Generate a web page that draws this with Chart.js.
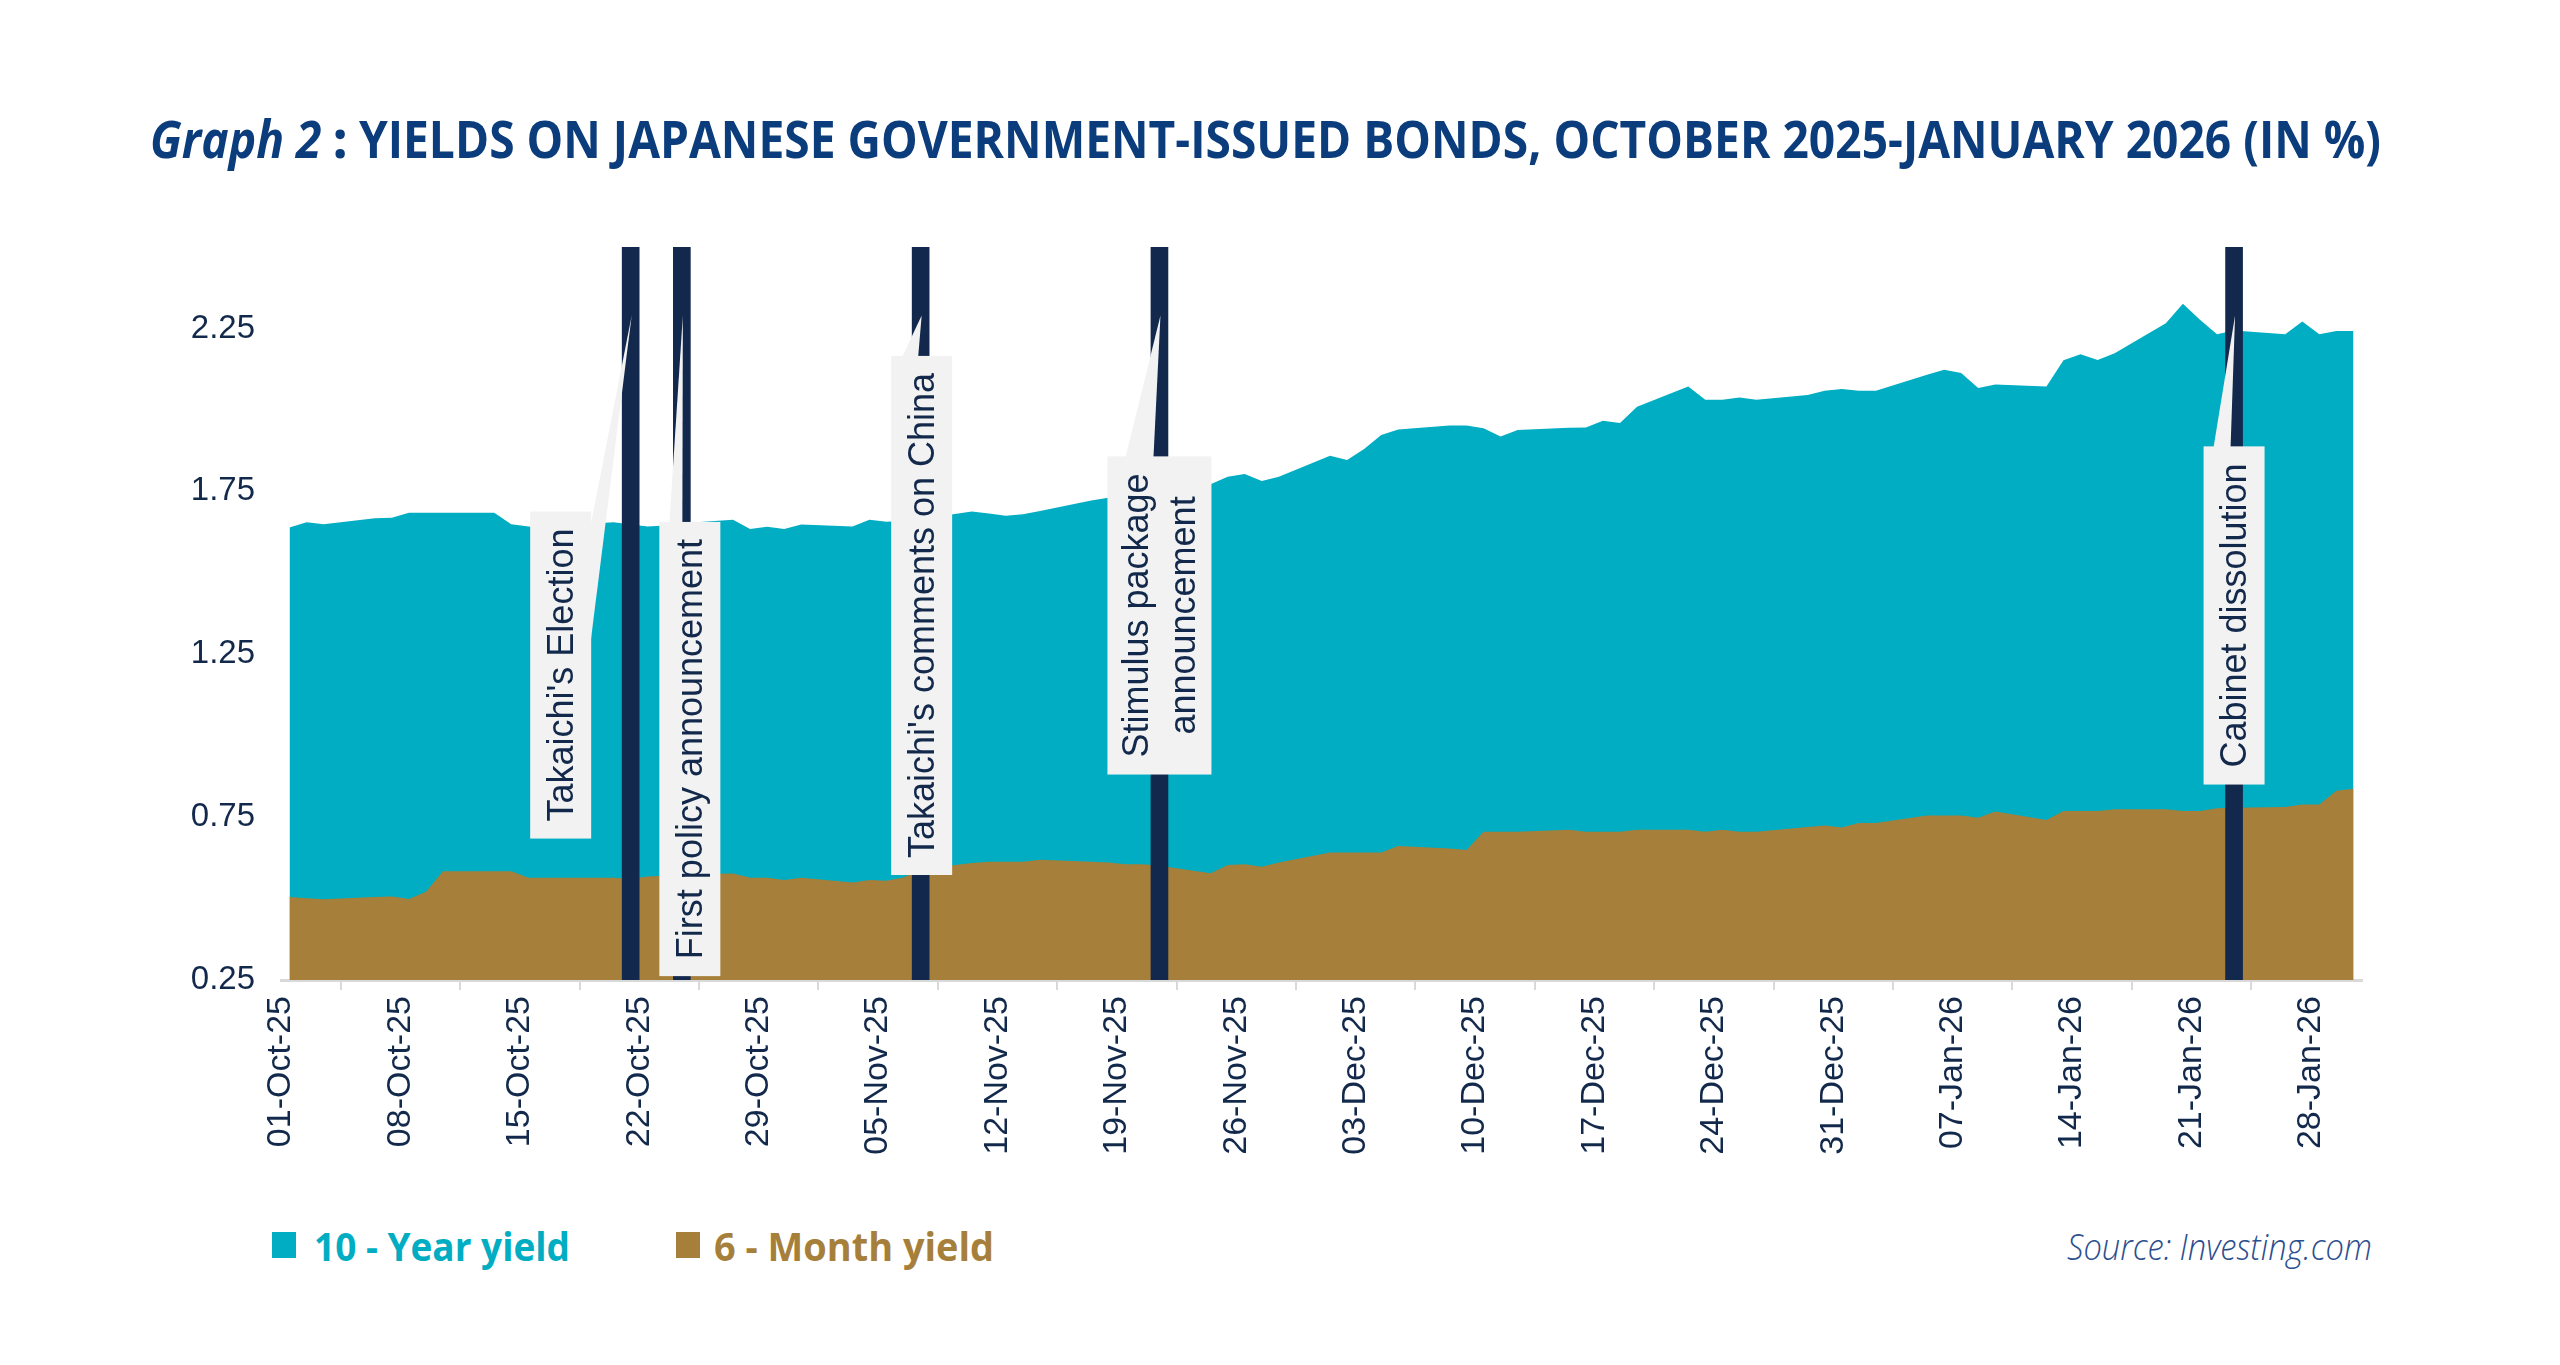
<!DOCTYPE html>
<html>
<head>
<meta charset="utf-8">
<script src="https://cdn.jsdelivr.net/npm/chart.js@4.4.1/dist/chart.umd.min.js"></script>
<style>
  html, body { margin: 0; padding: 0; background: #fff; }
  #page { position: relative; width: 2560px; height: 1365px; overflow: hidden; background: #fff; }
  .fit { position: absolute; white-space: nowrap; transform-origin: 0 0; line-height: 1; font-family: "Open Sans", sans-serif; }
  #title { left: 150px; top: 112px; font-size: 52px; font-weight: 700; color: #0B3C7C; }
  #title i { font-weight: 700; }
  #chartBox { position: absolute; left: 0; top: 200px; width: 2560px; height: 1000px; }
  .key { position: absolute; top: 1232px; width: 24px; height: 26px; }
  .legend { top: 1226px; font-size: 39px; font-weight: 700; }
  #source { left: 2067px; top: 1229px; font-size: 36px; font-style: italic; font-weight: 300; color: #2B4F8E; }
</style>
</head>
<body>
<div id="page">
  <div id="title" class="fit" data-w="2231"><i>Graph 2</i> <b>:</b> YIELDS ON JAPANESE GOVERNMENT-ISSUED BONDS, OCTOBER 2025-JANUARY 2026 (IN %)</div>
  <div id="chartBox"><canvas id="chart" width="2560" height="1000"></canvas></div>
  <div class="key" style="left:272px; background:#00ADC2"></div>
  <div class="fit legend" data-w="256" style="left:314px; color:#00ADC2">10 - Year yield</div>
  <div class="key" style="left:676px; background:#A67F3A"></div>
  <div class="fit legend" data-w="280" style="left:714px; color:#A67F3A">6 - Month yield</div>
  <div id="source" class="fit" data-w="305">Source: Investing.com</div>
</div>
<script>
// trading days
const startDate = '2025-10-01';
const dates = [
  '2025-10-01','2025-10-02','2025-10-03','2025-10-06','2025-10-07','2025-10-08','2025-10-09','2025-10-10',
  '2025-10-13','2025-10-14','2025-10-15','2025-10-16','2025-10-17','2025-10-20','2025-10-21','2025-10-22',
  '2025-10-23','2025-10-24','2025-10-27','2025-10-28','2025-10-29','2025-10-30','2025-10-31','2025-11-03',
  '2025-11-04','2025-11-05','2025-11-06','2025-11-07','2025-11-10','2025-11-11','2025-11-12','2025-11-13',
  '2025-11-14','2025-11-17','2025-11-18','2025-11-19','2025-11-20','2025-11-21','2025-11-24','2025-11-25',
  '2025-11-26','2025-11-27','2025-11-28','2025-12-01','2025-12-02','2025-12-03','2025-12-04','2025-12-05',
  '2025-12-08','2025-12-09','2025-12-10','2025-12-11','2025-12-12','2025-12-15','2025-12-16','2025-12-17',
  '2025-12-18','2025-12-19','2025-12-22','2025-12-23','2025-12-24','2025-12-25','2025-12-26','2025-12-29',
  '2025-12-30','2025-12-31','2026-01-01','2026-01-02','2026-01-05','2026-01-06','2026-01-07','2026-01-08',
  '2026-01-09','2026-01-12','2026-01-13','2026-01-14','2026-01-15','2026-01-16','2026-01-19','2026-01-20',
  '2026-01-21','2026-01-22','2026-01-23','2026-01-26','2026-01-27','2026-01-28','2026-01-29','2026-01-30'
];
const yield10y = [
  1.639,1.655,1.649,1.667,1.669,1.684,1.684,1.684,
  1.684,1.649,1.642,1.640,1.645,1.655,1.648,1.642,
  1.645,1.652,1.663,1.634,1.641,1.634,1.648,1.642,
  1.663,1.657,1.660,1.665,1.688,1.682,1.675,1.680,
  1.690,1.722,1.730,1.738,1.748,1.757,1.772,1.795,
  1.803,1.782,1.795,1.859,1.846,1.880,1.923,1.940,
  1.952,1.952,1.944,1.918,1.938,1.945,1.946,1.967,
  1.960,2.010,2.072,2.031,2.031,2.038,2.031,2.046,
  2.059,2.064,2.059,2.059,2.108,2.123,2.113,2.067,
  2.078,2.072,2.152,2.171,2.153,2.174,2.266,2.326,
  2.277,2.232,2.244,2.232,2.271,2.232,2.242,2.242
];
const yield6m = [
  0.505,0.501,0.498,0.505,0.506,0.499,0.521,0.584,
  0.584,0.584,0.564,0.564,0.564,0.564,0.560,0.568,
  0.570,0.575,0.577,0.564,0.564,0.557,0.564,0.549,
  0.557,0.555,0.565,0.590,0.609,0.613,0.613,0.613,
  0.619,0.613,0.611,0.605,0.605,0.601,0.578,0.603,
  0.605,0.598,0.611,0.641,0.641,0.641,0.641,0.661,
  0.654,0.649,0.705,0.705,0.705,0.711,0.705,0.705,
  0.705,0.711,0.711,0.705,0.711,0.705,0.705,0.720,
  0.724,0.718,0.732,0.732,0.755,0.755,0.755,0.748,
  0.767,0.741,0.769,0.769,0.769,0.774,0.774,0.769,
  0.769,0.777,0.779,0.781,0.789,0.789,0.831,0.837
];
const eventDates = ['2025-10-21', '2025-10-24', '2025-11-07', '2025-11-21', '2026-01-23'];
const eventLabels = [
  ["Takaichi's Election"],
  ['First policy announcement'],
  ["Takaichi's comments on China"],
  ['Stimulus package', 'announcement'],
  ['Cabinet dissolution']
];
const tickLabels = [
  '01-Oct-25','08-Oct-25','15-Oct-25','22-Oct-25','29-Oct-25','05-Nov-25','12-Nov-25','19-Nov-25','26-Nov-25',
  '03-Dec-25','10-Dec-25','17-Dec-25','24-Dec-25','31-Dec-25','07-Jan-26','14-Jan-26','21-Jan-26','28-Jan-26'
];
const yTicks = [0.25, 0.75, 1.25, 1.75, 2.25];

// callout boxes: offset from the bar, centre height (in %), side the pointer leaves from
const calloutLayout = [
  { dx: -70, cy: 1.186, side: 'right', a0: 16, a1: 134 },
  { dx: 8, cy: 0.959, side: 'top', a0: 10, a1: 23 },
  { dx: 1, cy: 1.369, side: 'top', a0: 11, a1: 27 },
  { dx: 0, cy: 1.369, side: 'top', a0: 18, a1: 46 },
  { dx: 0, cy: 1.369, side: 'top', a0: 10, a1: 27 }
];
const tipValue = 2.29;

const NAVY = '#13294B';
const FONT = '"Liberation Sans", Arial, sans-serif';

function dayOf(s) {
  return Math.round((Date.parse(s) - Date.parse(startDate)) / 864e5);
}

////////////////////////////////////////////////////////////////////////////////

const calloutPlugin = {
  id: 'callouts',
  afterDatasetsDraw(chart) {
    const ctx = chart.ctx;
    const x = chart.scales.x, y = chart.scales.y;
    ctx.save();
    ctx.font = '36px ' + FONT;
    eventDates.forEach((d, i) => {
      const lay = calloutLayout[i];
      const lines = eventLabels[i];
      const bx = x.getPixelForValue(dayOf(d));
      const textW = Math.max(...lines.map(l => ctx.measureText(l).width));
      const h = textW + 34;
      const w = lines.length > 1 ? 104 : 61;
      const cx = bx + lay.dx, cy = y.getPixelForValue(lay.cy);
      const left = cx - w / 2, top = cy - h / 2;
      const tipX = bx + 1, tipY = y.getPixelForValue(tipValue);

      ctx.fillStyle = '#F2F2F2';
      ctx.beginPath();
      if (lay.side === 'right') {
        ctx.moveTo(left + w - 1, top + lay.a0);
        ctx.lineTo(tipX, tipY);
        ctx.lineTo(left + w - 1, top + lay.a1);
      } else {
        ctx.moveTo(left + lay.a0, top + 1);
        ctx.lineTo(tipX, tipY);
        ctx.lineTo(left + lay.a1, top + 1);
      }
      ctx.closePath();
      ctx.fill();
      ctx.fillRect(left, top, w, h);

      ctx.save();
      ctx.translate(cx, cy);
      ctx.rotate(-Math.PI / 2);
      ctx.fillStyle = NAVY;
      ctx.textAlign = 'center';
      ctx.textBaseline = 'middle';
      lines.forEach((l, k) => ctx.fillText(l, 0, (k - (lines.length - 1) / 2) * 47 + 2));
      ctx.restore();
    });
    ctx.restore();
  }
};

new Chart(document.getElementById('chart'), {
  type: 'line',
  data: {
    datasets: [
      {
        type: 'bar',
        label: 'Events',
        data: eventDates.map(d => ({ x: dayOf(d), y: 2.5 })),
        backgroundColor: '#12284C',
        barThickness: 17,
        order: 0
      },
      {
        label: '6 - Month yield',
        data: dates.map((d, i) => ({ x: dayOf(d), y: yield6m[i] })),
        backgroundColor: '#A67F3A',
        borderWidth: 0,
        pointRadius: 0,
        fill: 'start',
        order: 1
      },
      {
        label: '10 - Year yield',
        data: dates.map((d, i) => ({ x: dayOf(d), y: yield10y[i] })),
        backgroundColor: '#00ADC2',
        borderWidth: 0,
        pointRadius: 0,
        fill: 'start',
        order: 2
      }
    ]
  },
  options: {
    responsive: false,
    animation: false,
    devicePixelRatio: 1,
    layout: { padding: { top: 47, right: 198, left: 0, bottom: 0 } },
    elements: { line: { tension: 0 } },
    plugins: { legend: { display: false }, tooltip: { enabled: false } },
    scales: {
      x: {
        type: 'linear',
        min: -0.5,
        max: 121.5,
        offset: false,
        afterBuildTicks: s => { s.ticks = tickLabels.map((_, k) => ({ value: 7 * k - 0.5 })); },
        afterFit: s => { s.height = 220; },
        grid: { display: true, drawOnChartArea: false, drawTicks: true, tickLength: 10, color: '#D9D9D9', lineWidth: 2 },
        border: { display: true, color: '#D9D9D9', width: 3 },
        ticks: {
          autoSkip: false, minRotation: 90, maxRotation: 90, padding: 6,
          color: NAVY, font: { size: 34, family: FONT },
          callback: (v, i) => tickLabels[i]
        }
      },
      y: {
        min: 0.25,
        max: 2.5,
        afterBuildTicks: s => { s.ticks = yTicks.map(v => ({ value: v })); },
        afterFit: s => { s.width = 281; },
        grid: { display: false, drawTicks: false },
        border: { display: false },
        ticks: { padding: 26, color: NAVY, font: { size: 33, family: FONT }, callback: v => v.toFixed(2) }
      }
    }
  },
  plugins: [calloutPlugin]
});

document.querySelectorAll('.fit').forEach(el => {
  const w = el.getBoundingClientRect().width;
  el.style.transform = 'scaleX(' + (el.dataset.w / w) + ')';
});
</script>
</body>
</html>
